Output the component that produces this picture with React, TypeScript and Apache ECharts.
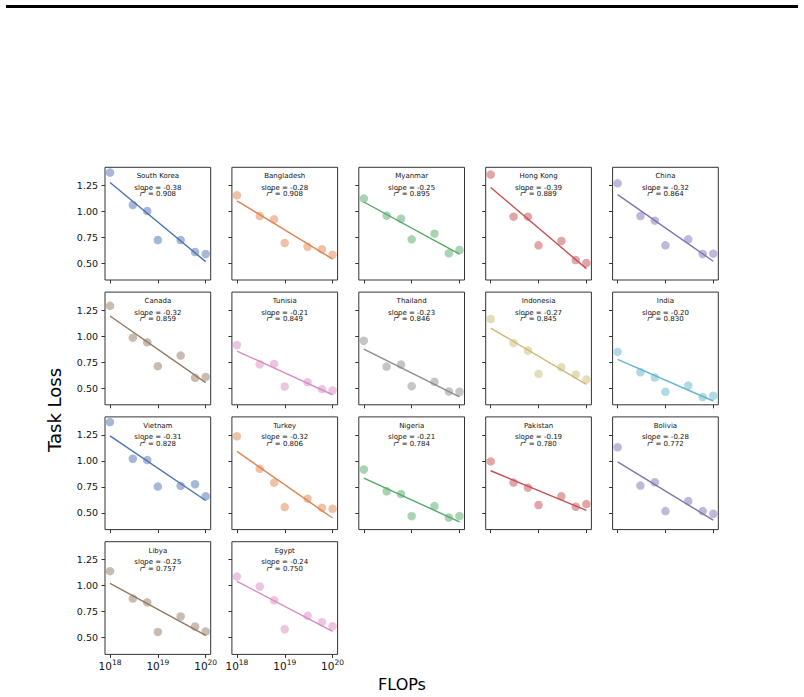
import React, { useEffect, useRef } from "react";
import * as echarts from "echarts";

// Training compute shared by every country panel
const FLOPS = [1e18, 3e18, 6e18, 1e19, 3e19, 6e19, 1e20];

const COUNTRIES = [
  "South Korea", "Bangladesh", "Myanmar", "Hong Kong", "China",
  "Canada", "Tunisia", "Thailand", "Indonesia", "India",
  "Vietnam", "Turkey", "Nigeria", "Pakistan", "Bolivia",
  "Libya", "Egypt",
];

// Task loss per country, one value per FLOPs budget
const LOSS_SOUTH_KOREA = [1.372, 1.061, 1.003, 0.724, 0.724, 0.609, 0.59];
const LOSS_BANGLADESH = [1.154, 0.955, 0.923, 0.696, 0.66, 0.635, 0.583];
const LOSS_MYANMAR = [1.122, 0.958, 0.929, 0.731, 0.785, 0.596, 0.628];
const LOSS_HONG_KONG = [1.353, 0.949, 0.949, 0.673, 0.715, 0.532, 0.503];
const LOSS_CHINA = [1.269, 0.955, 0.91, 0.673, 0.731, 0.59, 0.593];
const LOSS_CANADA = [1.291, 0.985, 0.94, 0.711, 0.813, 0.599, 0.608];
const LOSS_TUNISIA = [0.915, 0.73, 0.733, 0.516, 0.557, 0.49, 0.478];
const LOSS_THAILAND = [0.956, 0.707, 0.727, 0.519, 0.561, 0.468, 0.465];
const LOSS_INDONESIA = [1.164, 0.934, 0.861, 0.637, 0.701, 0.631, 0.583];
const LOSS_INDIA = [0.848, 0.653, 0.602, 0.465, 0.525, 0.414, 0.427];
const LOSS_VIETNAM = [1.373, 1.021, 1.008, 0.753, 0.76, 0.776, 0.66];
const LOSS_TURKEY = [1.237, 0.924, 0.792, 0.556, 0.637, 0.55, 0.54];
const LOSS_NIGERIA = [0.918, 0.708, 0.682, 0.469, 0.566, 0.456, 0.47];
const LOSS_PAKISTAN = [0.995, 0.792, 0.743, 0.576, 0.66, 0.56, 0.585];
const LOSS_BOLIVIA = [1.131, 0.763, 0.795, 0.518, 0.614, 0.518, 0.492];
const LOSS_LIBYA = [1.14, 0.876, 0.84, 0.556, 0.705, 0.608, 0.56];
const LOSS_EGYPT = [1.088, 0.992, 0.86, 0.582, 0.711, 0.65, 0.611];

const LOSSES = [
  LOSS_SOUTH_KOREA, LOSS_BANGLADESH, LOSS_MYANMAR, LOSS_HONG_KONG, LOSS_CHINA,
  LOSS_CANADA, LOSS_TUNISIA, LOSS_THAILAND, LOSS_INDONESIA, LOSS_INDIA,
  LOSS_VIETNAM, LOSS_TURKEY, LOSS_NIGERIA, LOSS_PAKISTAN, LOSS_BOLIVIA,
  LOSS_LIBYA, LOSS_EGYPT,
];

// Fitted slope (loss per decade of FLOPs) and r² per country
const SLOPES = [
  -0.38, -0.28, -0.25, -0.39, -0.32,
  -0.32, -0.21, -0.23, -0.27, -0.2,
  -0.31, -0.32, -0.21, -0.19, -0.28,
  -0.25, -0.24,
];
const R2 = [
  0.908, 0.908, 0.895, 0.889, 0.864,
  0.859, 0.849, 0.846, 0.845, 0.83,
  0.828, 0.806, 0.784, 0.78, 0.772,
  0.757, 0.75,
];

const Y_TICKS = [0.5, 0.75, 1.0, 1.25];
const X_TICK_EXPONENTS = [18, 19, 20];

// seaborn "deep" palette
const PALETTE = [
  "#4C72B0", "#DD8452", "#55A868", "#C44E52", "#8172B3",
  "#937860", "#DA8BC3", "#8C8C8C", "#CCB974", "#64B5CD",
];

// subplot layout
const NCOLS = 5;
const NROWS = 4;
const LEFT0 = 105;
const COL_STEP = 126.9;
const TOP0 = 167.3;
const ROW_STEP = 124.8;
const PW = 105.7;
const PH = 112.7;
const X_MIN = 17.895;
const X_MAX = 20.105;
const Y_MIN = 0.34;
const Y_MAX = 1.423;
const FONT = "DejaVu Sans";

function regressionEnds(xs: number[], ys: number[], slope: number) {
  const n = xs.length;
  const mx = xs.reduce((a, b) => a + b, 0) / n;
  const my = ys.reduce((a, b) => a + b, 0) / n;
  const b = my - slope * mx;
  const x0 = xs[0];
  const x1 = xs[n - 1];
  return [
    [x0, b + slope * x0],
    [x1, b + slope * x1],
  ];
}

function buildOption() {
  const n = COUNTRIES.length;
  const grids: any[] = [];
  const xAxes: any[] = [];
  const yAxes: any[] = [];
  const series: any[] = [];
  const graphics: any[] = [];
  const logX = FLOPS.map((f) => Math.log10(f));

  for (let i = 0; i < n; i++) {
    const col = i % NCOLS;
    const row = Math.floor(i / NCOLS);
    const left = LEFT0 + col * COL_STEP;
    const top = TOP0 + row * ROW_STEP;
    const color = PALETTE[i % PALETTE.length];
    // only the last row of the grid carries x tick labels
    const lastRow = row === NROWS - 1;

    grids.push({
      left,
      top,
      width: PW,
      height: PH,
      show: true,
      borderColor: "#333",
      borderWidth: 1,
      backgroundColor: "#fff",
    });

    xAxes.push({
      type: "value",
      gridIndex: i,
      min: X_MIN,
      max: X_MAX,
      axisLine: { show: false },
      splitLine: { show: false },
      axisTick: {
        show: true,
        length: 3.5,
        customValues: X_TICK_EXPONENTS,
        lineStyle: { color: "#333", width: 1 },
      },
      axisLabel: {
        show: lastRow,
        customValues: X_TICK_EXPONENTS,
        margin: 4,
        formatter: (v: number) => `{b|10}{s|${Math.round(v)}}`,
        rich: {
          b: { fontFamily: FONT, fontSize: 10.5, color: "#111", lineHeight: 13, verticalAlign: "bottom" },
          s: { fontFamily: FONT, fontSize: 7.5, color: "#111", lineHeight: 8, verticalAlign: "top" },
        },
      },
    });

    yAxes.push({
      type: "value",
      gridIndex: i,
      min: Y_MIN,
      max: Y_MAX,
      axisLine: { show: false },
      splitLine: { show: false },
      axisTick: {
        show: true,
        length: 3.5,
        customValues: Y_TICKS,
        lineStyle: { color: "#333", width: 1 },
      },
      axisLabel: {
        show: col === 0,
        customValues: Y_TICKS,
        margin: 7,
        fontFamily: FONT,
        fontSize: 9.5,
        color: "#111",
        formatter: (v: number) => v.toFixed(2),
      },
    });

    series.push({
      type: "scatter",
      xAxisIndex: i,
      yAxisIndex: i,
      symbolSize: 8.5,
      itemStyle: { color, opacity: 0.5 },
      data: logX.map((x, k) => [x, LOSSES[i][k]]),
      z: 2,
    });

    series.push({
      type: "line",
      xAxisIndex: i,
      yAxisIndex: i,
      showSymbol: false,
      symbol: "none",
      lineStyle: { color, width: 1.4 },
      data: regressionEnds(logX, LOSSES[i], SLOPES[i]),
      z: 3,
    });

    const cx = left + PW / 2;
    graphics.push({
      type: "text",
      x: cx,
      y: top + 9,
      z: 10,
      style: {
        text: COUNTRIES[i],
        align: "center",
        verticalAlign: "middle",
        fontFamily: FONT,
        fontSize: 7,
        fill: "#111",
      },
    });
    graphics.push({
      type: "text",
      x: cx,
      y: top + 20.5,
      z: 10,
      style: {
        text: `slope = ${SLOPES[i].toFixed(2)}`,
        align: "center",
        verticalAlign: "middle",
        fontFamily: FONT,
        fontSize: 7,
        fill: "#111",
      },
    });
    graphics.push({
      type: "text",
      x: cx,
      y: top + 26,
      z: 10,
      style: {
        text: `{i|r}{s|2}{t| = ${R2[i].toFixed(3)}}`,
        align: "center",
        verticalAlign: "middle",
        rich: {
          i: { fontFamily: FONT, fontSize: 7, fontStyle: "italic", fill: "#111", lineHeight: 9, verticalAlign: "bottom" },
          s: { fontFamily: FONT, fontSize: 5, fill: "#111", lineHeight: 6, verticalAlign: "top" },
          t: { fontFamily: FONT, fontSize: 7, fill: "#111", lineHeight: 9, verticalAlign: "bottom" },
        },
      },
    });
  }

  // rule across the top of the page
  graphics.push({
    type: "rect",
    shape: { x: 6, y: 5, width: 792, height: 3 },
    style: { fill: "#000" },
  });
  graphics.push({
    type: "text",
    x: 54,
    y: 410,
    rotation: Math.PI / 2,
    style: {
      text: "Task Loss",
      align: "center",
      verticalAlign: "middle",
      fontFamily: FONT,
      fontSize: 18,
      fill: "#000",
    },
  });
  graphics.push({
    type: "text",
    x: 402,
    y: 684,
    style: {
      text: "FLOPs",
      align: "center",
      verticalAlign: "middle",
      fontFamily: FONT,
      fontSize: 16,
      fill: "#000",
    },
  });

  return {
    animation: false,
    backgroundColor: "#fff",
    grid: grids,
    xAxis: xAxes,
    yAxis: yAxes,
    series,
    graphic: graphics,
  };
}

export default function App() {
  const ref = useRef<HTMLDivElement>(null);
  useEffect(() => {
    if (!ref.current) return;
    const chart = echarts.init(ref.current, undefined, { renderer: "svg" });
    chart.setOption(buildOption());
    return () => chart.dispose();
  }, []);
  return (
    <div
      ref={ref}
      style={{ position: "fixed", left: 0, top: 0, width: 804, height: 697, background: "#fff" }}
    />
  );
}
